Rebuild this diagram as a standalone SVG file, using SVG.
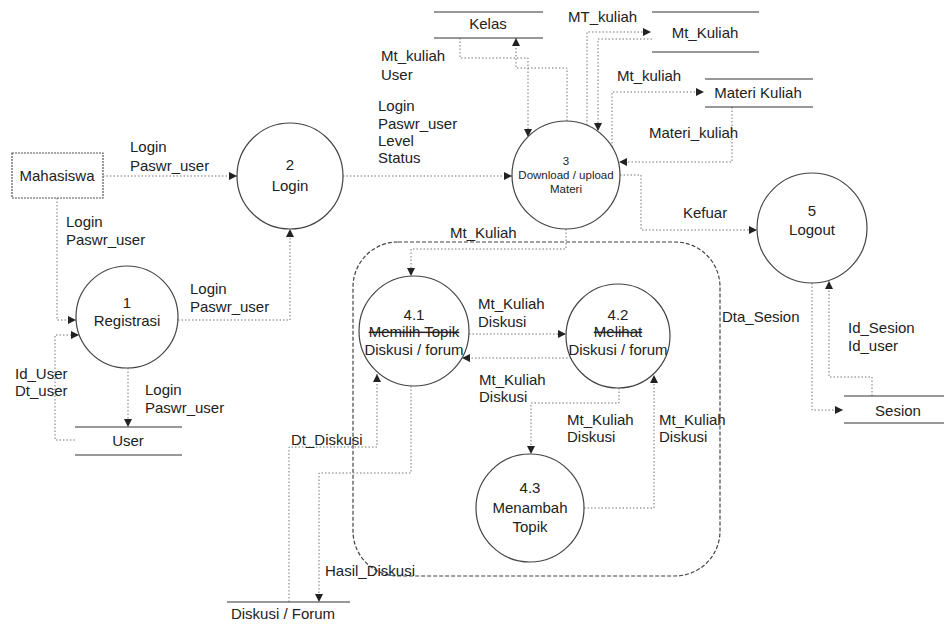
<svg xmlns="http://www.w3.org/2000/svg" width="944" height="627" viewBox="0 0 944 627">
  <style>
    text { font-family: "Liberation Sans", Arial, sans-serif; font-size: 15px; fill: #222; }
    .c { text-anchor: middle; }
    .sm { font-size: 11.5px; }
    .strike { text-decoration: line-through; }
    .proc { fill: #fff; stroke: #444; stroke-width: 1.2; }
    .ext { fill: #fff; stroke: #555; stroke-width: 1.2; stroke-dasharray: 2 1; }
    .store { stroke: #333; stroke-width: 1.2; fill: none; }
    .flow { fill: none; stroke: #777; stroke-width: 1; stroke-dasharray: 1.5 2; }
    .group { fill: none; stroke: #444; stroke-width: 1.2; stroke-dasharray: 4 2; }
  </style>
  <defs>
    <marker id="arrow" viewBox="0 0 8 8" refX="8" refY="4" markerWidth="8" markerHeight="8" markerUnits="userSpaceOnUse" orient="auto">
      <path d="M0,0 L8,4 L0,8 z" fill="#222"/>
    </marker>
  </defs>
  <rect width="944" height="627" fill="#fff"/>

  <!-- process 4 boundary -->
  <rect id="group4" class="group" x="353" y="242" width="367" height="334" rx="45"/>

  <!-- connectors -->
  <g id="connectors" marker-end="url(#arrow)">
    <path class="flow" d="M103,176 H237"/>
    <path class="flow" d="M57,198 V320 H76"/>
    <path class="flow" d="M178,320 H290 V229"/>
    <path class="flow" d="M75,440 H55 V335 H79"/>
    <path class="flow" d="M128,368 V427"/>
    <path class="flow" d="M343,176 H512"/>
    <path class="flow" d="M567,121 V68 H516 V38"/>
    <path class="flow" d="M460,38 V58 H528 V137"/>
    <path class="flow" d="M587,125 V32 H651"/>
    <path class="flow" d="M652,39 H598 V131"/>
    <path class="flow" d="M612,147 V92 H704"/>
    <path class="flow" d="M732,107 V162 H619"/>
    <path class="flow" d="M620,175 H641 V230 H757"/>
    <path class="flow" d="M566,229 V249 H411 V276"/>
    <path class="flow" d="M469,334 H566"/>
    <path class="flow" d="M571,358 H462"/>
    <path class="flow" d="M619,388 V403 H531 V454"/>
    <path class="flow" d="M584,508 H654 V375"/>
    <path class="flow" d="M289,602 V447 H377 V374"/>
    <path class="flow" d="M411,386 V473 H319 V602"/>
    <path class="flow" d="M812,283 V410 H843"/>
    <path class="flow" d="M872,396 V377 H829 V281"/>
  </g>

  <!-- flow labels -->
  <g id="labels">
    <text x="130" y="152">Login</text><text x="130" y="171">Paswr_user</text>
    <text x="66" y="227">Login</text><text x="66" y="245">Paswr_user</text>
    <text x="190" y="294">Login</text><text x="190" y="312">Paswr_user</text>
    <text x="15" y="379">Id_User</text><text x="15" y="396">Dt_user</text>
    <text x="145" y="395">Login</text><text x="145" y="413">Paswr_user</text>
    <text x="378" y="111">Login</text><text x="378" y="129">Paswr_user</text>
    <text x="378" y="146">Level</text><text x="378" y="163">Status</text>
    <text x="381" y="61">Mt_kuliah</text><text x="381" y="80">User</text>
    <text x="568" y="22">MT_kuliah</text>
    <text x="617" y="81">Mt_kuliah</text>
    <text x="649" y="138">Materi_kuliah</text>
    <text x="683" y="218">Kefuar</text>
    <text x="450" y="238">Mt_Kuliah</text>
    <text x="478" y="309">Mt_Kuliah</text><text x="478" y="327">Diskusi</text>
    <text x="479" y="385">Mt_Kuliah</text><text x="479" y="402">Diskusi</text>
    <text x="567" y="425">Mt_Kuliah</text><text x="567" y="442">Diskusi</text>
    <text x="659" y="425">Mt_Kuliah</text><text x="659" y="442">Diskusi</text>
    <text x="291" y="445">Dt_Diskusi</text>
    <text x="325" y="576">Hasil_Diskusi</text>
    <text x="722" y="322">Dta_Sesion</text>
    <text x="848" y="333">Id_Sesion</text><text x="848" y="351">Id_user</text>
  </g>

  <!-- external entity -->
  <g id="mahasiswa">
    <rect class="ext" x="12" y="153" width="91" height="45"/>
    <text class="c" x="57" y="181">Mahasiswa</text>
  </g>

  <!-- processes -->
  <g id="p1">
    <circle class="proc" cx="127" cy="317" r="51"/>
    <text class="c" x="127" y="308">1</text>
    <text class="c" x="127" y="326">Registrasi</text>
  </g>
  <g id="p2">
    <circle class="proc" cx="290" cy="176" r="53"/>
    <text class="c" x="290" y="170">2</text>
    <text class="c" x="290" y="191">Login</text>
  </g>
  <g id="p3">
    <circle class="proc" cx="566" cy="175" r="54"/>
    <text class="c sm" x="566" y="165">3</text>
    <text class="c sm" x="566" y="179">Download / upload</text>
    <text class="c sm" x="566" y="193">Materi</text>
  </g>
  <g id="p41">
    <circle class="proc" cx="414" cy="331" r="55"/>
    <text class="c" x="414" y="320">4.1</text>
    <text class="c strike" x="414" y="337" font-size="14">Memilih Topik</text>
    <text class="c" x="414" y="355">Diskusi / forum</text>
  </g>
  <g id="p42">
    <circle class="proc" cx="618" cy="336" r="52"/>
    <text class="c" x="618" y="320">4.2</text>
    <text class="c strike" x="618" y="337" font-size="14">Melihat</text>
    <text class="c" x="618" y="355">Diskusi / forum</text>
  </g>
  <g id="p43">
    <circle class="proc" cx="530" cy="508" r="54"/>
    <text class="c" x="530" y="493">4.3</text>
    <text class="c" x="530" y="513">Menambah</text>
    <text class="c" x="530" y="532">Topik</text>
  </g>
  <g id="p5">
    <circle class="proc" cx="812" cy="228" r="55"/>
    <text class="c" x="812" y="216">5</text>
    <text class="c" x="812" y="235">Logout</text>
  </g>

  <!-- data stores -->
  <g id="s-user">
    <path class="store" d="M75,427 H182 M75,455 H182"/>
    <text class="c" x="128" y="446">User</text>
  </g>
  <g id="s-kelas">
    <path class="store" d="M434,12 H543 M434,38 H543"/>
    <text class="c" x="488" y="29">Kelas</text>
  </g>
  <g id="s-mtkuliah">
    <path class="store" d="M652,12 H759 M652,52 H759"/>
    <text class="c" x="705" y="38">Mt_Kuliah</text>
  </g>
  <g id="s-materi">
    <path class="store" d="M705,79 H813 M705,107 H813"/>
    <text class="c" x="758" y="98">Materi Kuliah</text>
  </g>
  <g id="s-sesion">
    <path class="store" d="M844,396 H944 M844,423 H944"/>
    <text class="c" x="898" y="416">Sesion</text>
  </g>
  <g id="s-diskusi">
    <path class="store" d="M227,602 H350"/>
    <text class="c" x="283" y="619">Diskusi / Forum</text>
  </g>
</svg>
